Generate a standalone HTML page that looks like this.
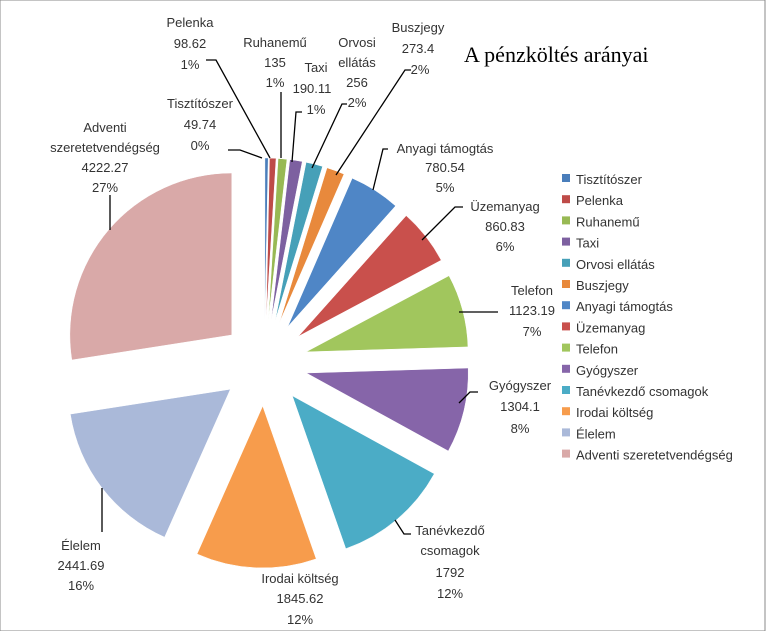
<!DOCTYPE html>
<html><head><meta charset="utf-8"><style>
body{margin:0;background:#fff;width:771px;height:631px;overflow:hidden}
svg text{font-family:"Liberation Sans",sans-serif;font-size:13px;fill:#333}
</style></head><body>
<svg id="s" width="771" height="631" xmlns="http://www.w3.org/2000/svg">
<rect x="0" y="0" width="765" height="631" fill="#fff" stroke="#888" stroke-width="1"/>
<g id="pie"></g>
<text x="464" y="62" style="font-family:'Liberation Serif',serif;font-size:22px;fill:#000">A pénzköltés arányai</text>
<g fill="none" stroke="#000" stroke-width="1.3">
<polyline points="228,150 240,150 262,158"/>
<polyline points="206,60 216,60 270,158"/>
<polyline points="281,92 281,158"/>
<polyline points="302,112 296,112 292,162"/>
<polyline points="347,104 342,104 312,168"/>
<polyline points="411,70 405,70 336,175"/>
<polyline points="388,149 383,149 373,190"/>
<polyline points="463,207 455,207 422,240"/>
<polyline points="498,312 459,312"/>
<polyline points="478,392 470,392 459,403"/>
<polyline points="411,534 404,534 395,520"/>
<polyline points="110,195 110,230"/>
<polyline points="102,488 102,532"/>
</g>
<g text-anchor="middle">
<text x="200" y="108">Tisztítószer</text><text x="200" y="129">49.74</text><text x="200" y="150">0%</text>
<text x="190" y="27">Pelenka</text><text x="190" y="48">98.62</text><text x="190" y="69">1%</text>
<text x="275" y="47">Ruhanemű</text><text x="275" y="67">135</text><text x="275" y="87">1%</text>
<text x="316" y="72">Taxi</text><text x="312" y="93">190.11</text><text x="316" y="114">1%</text>
<text x="357" y="47">Orvosi</text><text x="357" y="67">ellátás</text><text x="357" y="87">256</text><text x="357" y="107">2%</text>
<text x="418" y="32">Buszjegy</text><text x="418" y="53">273.4</text><text x="420" y="74">2%</text>
<text x="445" y="153">Anyagi támogtás</text><text x="445" y="172">780.54</text><text x="445" y="192">5%</text>
<text x="505" y="211">Üzemanyag</text><text x="505" y="231">860.83</text><text x="505" y="251">6%</text>
<text x="532" y="295">Telefon</text><text x="532" y="315">1123.19</text><text x="532" y="336">7%</text>
<text x="520" y="390">Gyógyszer</text><text x="520" y="411">1304.1</text><text x="520" y="433">8%</text>
<text x="450" y="535">Tanévkezdő</text><text x="450" y="555">csomagok</text><text x="450" y="577">1792</text><text x="450" y="598">12%</text>
<text x="300" y="583">Irodai költség</text><text x="300" y="603">1845.62</text><text x="300" y="624">12%</text>
<text x="81" y="550">Élelem</text><text x="81" y="570">2441.69</text><text x="81" y="590">16%</text>
<text x="105" y="132">Adventi</text><text x="105" y="152">szeretetvendégség</text><text x="105" y="172">4222.27</text><text x="105" y="192">27%</text>
</g>
<g id="leg"></g>
</svg>
<script>
var d=[["Tisztítószer",49.74,"#4a7ebb"],["Pelenka",98.62,"#be4b48"],["Ruhanemű",135,"#98b954"],["Taxi",190.11,"#7d60a0"],["Orvosi ellátás",256,"#46a0b8"],["Buszjegy",273.4,"#e8893c"],["Anyagi támogtás",780.54,"#4f86c6"],["Üzemanyag",860.83,"#c9504c"],["Telefon",1123.19,"#a1c65d"],["Gyógyszer",1304.1,"#8665a9"],["Tanévkezdő csomagok",1792,"#4bacc6"],["Irodai költség",1845.62,"#f79c4c"],["Élelem",2441.69,"#aab9d9"],["Adventi szeretetvendégség",4222.27,"#d9a9a8"]];
var tot=0;d.forEach(function(a){tot+=a[1]});
var cx=264.5,cy=363,R=162,D=43,acc=0,h="",lg="";
function pt(a,r,ox,oy){return [(ox+r*Math.sin(a)).toFixed(1),(oy-r*Math.cos(a)).toFixed(1)]}
d.forEach(function(a,i){var s=acc/tot*2*Math.PI;acc+=a[1];var e=acc/tot*2*Math.PI;var m=(s+e)/2;
var ox=cx+D*Math.sin(m),oy=cy-D*Math.cos(m);var p1=pt(s,R,ox,oy),p2=pt(e,R,ox,oy);
h+='<path d="M'+ox.toFixed(1)+','+oy.toFixed(1)+'L'+p1+'A'+R+','+R+' 0 '+((e-s)>Math.PI?1:0)+' 1 '+p2+'Z" fill="'+a[2]+'" stroke="#fff" stroke-width="0.5"/>';
var y=174+i*21.2;lg+='<rect x="562" y="'+(y).toFixed(1)+'" width="8" height="8" fill="'+a[2]+'"/><text x="576" y="'+(y+10).toFixed(1)+'">'+a[0]+'</text>';});
document.getElementById("pie").innerHTML=h;document.getElementById("leg").innerHTML=lg;
</script>
</body></html>
